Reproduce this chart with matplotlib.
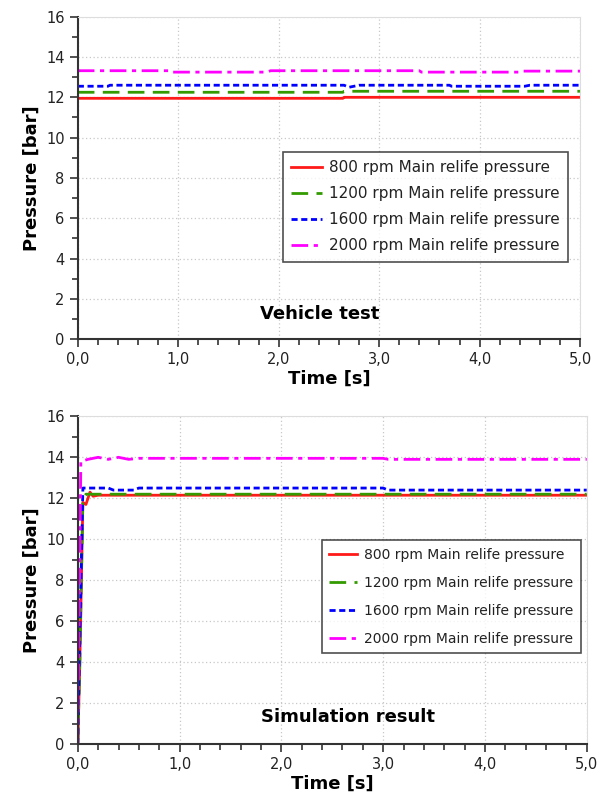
import matplotlib
matplotlib.use("Agg")
import matplotlib.pyplot as plt
from matplotlib.ticker import MultipleLocator, FuncFormatter

# ---- data: vehicle test ----
veh_t_800 = [0.0, 2.64, 2.65, 5.0]
veh_p_800 = [11.95, 11.95, 12.0, 12.0]
veh_t_1200 = [0.0, 2.64, 2.65, 5.0]
veh_p_1200 = [12.25, 12.25, 12.3, 12.3]
veh_t_1600 = [0.0, 0.3, 0.32, 2.65, 2.7, 2.8, 3.7, 3.72, 4.45, 4.5, 5.0]
veh_p_1600 = [12.55, 12.55, 12.6, 12.6, 12.5, 12.6, 12.6, 12.55, 12.55, 12.6, 12.6]
veh_t_2000 = [0.0, 0.9, 0.92, 1.88, 1.92, 3.4, 3.42, 4.4, 4.42, 5.0]
veh_p_2000 = [13.32, 13.32, 13.25, 13.25, 13.32, 13.32, 13.25, 13.25, 13.3, 13.3]

# ---- data: simulation ----
sim_t_800 = [0.0, 0.02, 0.05, 0.08, 0.12, 0.15, 0.2, 5.0]
sim_p_800 = [0.0, 4.0, 11.8, 11.7, 12.3, 12.1, 12.15, 12.15]
sim_t_1200 = [0.0, 0.02, 0.05, 0.08, 5.0]
sim_p_1200 = [0.0, 4.0, 12.0, 12.2, 12.2]
sim_t_1600 = [0.0, 0.015, 0.05, 0.3, 0.35, 0.55, 0.6, 3.0, 3.05, 5.0]
sim_p_1600 = [0.0, 4.0, 12.5, 12.5, 12.4, 12.4, 12.5, 12.5, 12.4, 12.4]
sim_t_2000 = [0.0, 0.03, 0.1, 0.2, 0.3, 0.4, 0.5, 0.6, 3.0, 3.05, 5.0]
sim_p_2000 = [0.0, 13.8, 13.9, 14.0, 13.9, 14.0, 13.9, 13.95, 13.95, 13.9, 13.9]

labels = ["800 rpm Main relife pressure", "1200 rpm Main relife pressure",
          "1600 rpm Main relife pressure", "2000 rpm Main relife pressure"]
colors = ["#ff1a1a", "#339a00", "#0000ff", "#ff00ff"]
styles = ["-", (0, (6, 3)), (0, (2.2, 1.3)), (0, (6, 2, 1.5, 2))]

fig = plt.figure(figsize=(6.03, 7.96), dpi=100)

def setup(ax, title, tx, ty, leg_bbox, leg_fs, leg_sp):
    ax.set_xlim(0, 5)
    ax.set_ylim(0, 16)
    ax.xaxis.set_major_locator(MultipleLocator(1))
    ax.xaxis.set_minor_locator(MultipleLocator(0.2))
    ax.yaxis.set_major_locator(MultipleLocator(2))
    ax.yaxis.set_minor_locator(MultipleLocator(1))
    ax.xaxis.set_major_formatter(FuncFormatter(lambda v, p: f"{v:.1f}".replace(".", ",")))
    ax.grid(True, which="major", linestyle=(0, (1, 2)), color="#c8c8c8", linewidth=0.9)
    ax.tick_params(which="major", length=6, width=1.2, labelsize=10.5, color="#333333",
                   labelcolor="#222222")
    ax.tick_params(which="minor", length=4, width=1.2, color="#333333")
    for s in ["left", "bottom"]:
        ax.spines[s].set_linewidth(1.5)
        ax.spines[s].set_color("#333333")
    for s in ["top", "right"]:
        ax.spines[s].set_color("#dddddd")
    ax.set_xlabel("Time [s]", fontsize=13, fontweight="bold", labelpad=2)
    ax.set_ylabel("Pressure [bar]", fontsize=13, fontweight="bold", labelpad=4)
    ax.text(tx, ty, title, transform=ax.transAxes, fontsize=13, fontweight="bold",
            ha="center", va="center")
    leg = ax.legend(loc="upper left", bbox_to_anchor=leg_bbox, fontsize=leg_fs,
                    frameon=True, fancybox=False, edgecolor="#222222",
                    handlelength=2.0, handletextpad=0.5, labelspacing=leg_sp,
                    borderpad=0.55, borderaxespad=0.0)
    leg.get_frame().set_linewidth(1.2)
    for txt in leg.get_texts():
        txt.set_color("#222222")

ax1 = fig.add_axes([0.129, 0.574, 0.833, 0.405])
for t, p, c, s, l in zip([veh_t_800, veh_t_1200, veh_t_1600, veh_t_2000],
                         [veh_p_800, veh_p_1200, veh_p_1600, veh_p_2000],
                         colors, styles, labels):
    ax1.plot(t, p, color=c, linestyle=s, linewidth=2, label=l)
setup(ax1, "Vehicle test", 0.482, 0.078, (0.408, 0.581), 11, 0.72)

ax2 = fig.add_axes([0.129, 0.065, 0.844, 0.412])
for t, p, c, s, l in zip([sim_t_800, sim_t_1200, sim_t_1600, sim_t_2000],
                         [sim_p_800, sim_p_1200, sim_p_1600, sim_p_2000],
                         colors, styles, labels):
    ax2.plot(t, p, color=c, linestyle=s, linewidth=2, label=l)
setup(ax2, "Simulation result", 0.53, 0.082, (0.479, 0.622), 10, 1.0)

fig.savefig("out.png", dpi=100)
